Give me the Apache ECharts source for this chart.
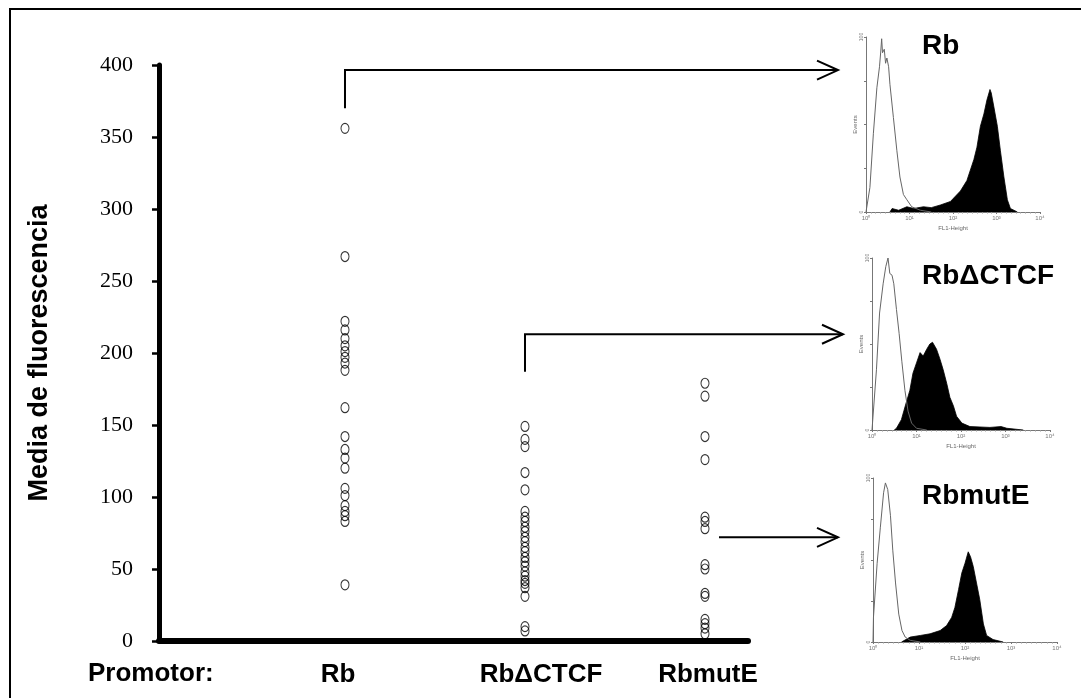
<!DOCTYPE html>
<html>
<head>
<meta charset="utf-8">
<script src="https://cdn.jsdelivr.net/npm/echarts@6/dist/echarts.min.js"></script>
<style>
html,body{margin:0;padding:0;background:#fff;}
#chart{width:1081px;height:698px;}
</style>
</head>
<body>
<div id="chart"></div>
<script>
// ---- main scatter data ----
const categories = ['Rb', 'RbΔCTCF', 'RbmutE'];
const axisTitle = 'Media de fluorescencia';
const promoterLabel = 'Promotor:';
const yTicks = [0, 50, 100, 150, 200, 250, 300, 350, 400];
const rbValues = [356, 267, 222, 216, 210, 205, 201, 197, 193, 188, 162, 142, 133, 127, 120, 106, 101, 94, 90, 87, 83, 39];
const ctcfValues = [149, 140, 135, 117, 105, 90, 86, 83, 79, 76, 72, 69, 65, 62, 58, 55, 52, 48, 45, 42, 40, 37, 31, 10, 7];
const mutEValues = [179, 170, 142, 126, 86, 83, 78, 53, 50, 33, 31, 15, 12, 9, 5];

// ---- histogram data: [log10 decade, events %] ----
const histTitles = ['Rb', 'RbΔCTCF', 'RbmutE'];
const histXTicks = ['10⁰', '10¹', '10²', '10³', '10⁴'];
const rbCtrl = [[0,0],[0.09,14],[0.17,45],[0.25,71],[0.31,83],[0.34,92],[0.36,99],[0.38,91],[0.42,93],[0.45,85],[0.48,88],[0.52,83],[0.55,73],[0.63,54],[0.71,35],[0.78,20],[0.86,10],[0.94,7],[1.05,3],[1.25,1],[1.5,0]];
const rbFill = [[0.55,0],[0.6,2],[0.75,1],[0.94,3],[1.1,2],[1.32,3],[1.5,2.5],[1.71,4],[1.94,6],[2.17,12],[2.32,18],[2.48,30],[2.55,37],[2.63,49],[2.71,56],[2.78,64],[2.85,70],[2.88,68],[2.94,60],[3.02,49],[3.09,35],[3.17,20],[3.25,7],[3.32,2],[3.48,0]];
const ctcfCtrl = [[0,0],[0.1,35],[0.17,68],[0.25,85],[0.31,95],[0.36,100],[0.4,91],[0.45,90],[0.49,85],[0.55,70],[0.61,56],[0.67,40],[0.74,23],[0.81,11],[0.89,4],[1.0,1],[1.23,0]];
const ctcfFill = [[0.5,0],[0.55,1],[0.66,6],[0.77,16],[0.85,23],[0.92,33],[1.0,39],[1.08,45],[1.15,43],[1.23,47],[1.3,50],[1.36,51],[1.45,47],[1.53,41],[1.6,35],[1.68,27],[1.75,19],[1.83,14],[1.9,8],[2.02,4],[2.2,2],[2.65,1.5],[2.9,2],[3.03,1],[3.4,0]];
const mutECtrl = [[0,0],[0.01,15],[0.09,48],[0.16,70],[0.23,91],[0.27,97],[0.32,93],[0.38,77],[0.43,56],[0.49,36],[0.56,17],[0.63,7],[0.7,3],[0.81,1],[1.03,0]];
const mutEFill = [[0.62,0],[0.66,1],[0.81,3],[1.03,4],[1.24,5],[1.46,7],[1.6,10],[1.71,15],[1.78,21],[1.86,32],[1.93,42],[2.0,48],[2.07,55],[2.12,52],[2.18,46],[2.25,36],[2.32,26],[2.4,11],[2.47,4],[2.61,1.5],[2.83,0]];

const chart = echarts.init(document.getElementById('chart'), null, {renderer: 'canvas'});

const seriesValues = [rbValues, ctcfValues, mutEValues];
const histCtrl = [rbCtrl, ctcfCtrl, mutECtrl];
const histFill = [rbFill, ctcfFill, mutEFill];

const histGrids = [
  {left: 866, top: 37, width: 174, height: 175},
  {left: 872, top: 258, width: 178, height: 172},
  {left: 873, top: 478, width: 184, height: 164}
];

const grids = [{left: 159, top: 65, width: 589, height: 576}].concat(histGrids);

const xAxes = [{
  gridIndex: 0, type: 'value', min: -0.0333, max: 3.2389,
  axisLine: {show: true, onZero: false, lineStyle: {color: '#000', width: 6}},
  axisTick: {show: false}, axisLabel: {show: false}, splitLine: {show: false}
}];
const yAxes = [{
  gridIndex: 0, type: 'value', min: 0, max: 400, interval: 50,
  name: axisTitle, nameLocation: 'middle', nameGap: 106, nameRotate: 90,
  nameTextStyle: {fontFamily: 'Liberation Sans', fontWeight: 'bold', fontSize: 27, color: '#000'},
  axisLine: {show: true, onZero: false, lineStyle: {color: '#000', width: 5}},
  axisTick: {show: true, length: 7, lineStyle: {color: '#000', width: 2.5}},
  axisLabel: {fontFamily: 'Liberation Serif', fontSize: 22, color: '#000', margin: 26, padding: [0,0,8,0]},
  splitLine: {show: false}
}];

histGrids.forEach((g, i) => {
  xAxes.push({
    gridIndex: i + 1, type: 'value', min: 0, max: 4, interval: 1,
    name: 'FL1-Height', nameLocation: 'middle', nameGap: 13,
    nameTextStyle: {fontSize: 6, color: '#666', fontFamily: 'Liberation Sans'},
    axisLine: {show: true, onZero: false, lineStyle: {color: '#777', width: 1}},
    axisTick: {show: true, length: 2, lineStyle: {color: '#777'}},
    minorTick: {show: true, splitNumber: 9, length: 1.5, lineStyle: {color: '#999'}},
    axisLabel: {fontSize: 6, color: '#777', margin: 3, formatter: v => histXTicks[Math.round(v)]},
    splitLine: {show: false}
  });
  yAxes.push({
    gridIndex: i + 1, type: 'value', min: 0, max: 100, interval: 25,
    name: 'Events', nameLocation: 'middle', nameGap: 8, nameRotate: 90,
    nameTextStyle: {fontSize: 6, color: '#666', fontFamily: 'Liberation Sans'},
    axisLine: {show: true, onZero: false, lineStyle: {color: '#777', width: 1}},
    axisTick: {show: true, length: 2, lineStyle: {color: '#777'}},
    axisLabel: {fontSize: 5, color: '#777', margin: 2, rotate: 90,
      formatter: v => (v === 0 || v === 100) ? String(v) : ''},
    splitLine: {show: false}
  });
});

const series = [];
seriesValues.forEach((vals, ci) => {
  series.push({
    type: 'scatter', name: categories[ci], xAxisIndex: 0, yAxisIndex: 0,
    data: vals.map(v => [ci + 1, v]),
    symbol: 'circle', symbolSize: [8, 10],
    itemStyle: {color: 'rgba(0,0,0,0)', borderColor: '#000', borderWidth: 1.1},
    silent: true
  });
});
histGrids.forEach((g, i) => {
  series.push({
    type: 'line', xAxisIndex: i + 1, yAxisIndex: i + 1, data: histFill[i],
    symbol: 'none', lineStyle: {color: '#000', width: 0.8},
    areaStyle: {color: '#000', opacity: 1}, z: 2
  });
  series.push({
    type: 'line', xAxisIndex: i + 1, yAxisIndex: i + 1, data: histCtrl[i],
    symbol: 'none', lineStyle: {color: '#666', width: 1}, z: 3
  });
});

const baseGraphic = [
  {type: 'rect', shape: {x: 10, y: 9, width: 1100, height: 720}, style: {fill: 'none', stroke: '#000', lineWidth: 2}, silent: true},
  {type: 'text', left: 88, top: 661, style: {text: promoterLabel, font: 'bold 26px "Liberation Sans"', fill: '#000'}},
  {type: 'text', x: 338, y: 675, style: {text: categories[0], font: 'bold 26px "Liberation Sans"', fill: '#000', align: 'center', verticalAlign: 'middle'}},
  {type: 'text', x: 541, y: 675, style: {text: categories[1], font: 'bold 26px "Liberation Sans"', fill: '#000', align: 'center', verticalAlign: 'middle'}},
  {type: 'text', x: 708, y: 675, style: {text: categories[2], font: 'bold 26px "Liberation Sans"', fill: '#000', align: 'center', verticalAlign: 'middle'}},
  {type: 'text', x: 922, y: 46, style: {text: histTitles[0], font: 'bold 28px "Liberation Sans"', fill: '#000', verticalAlign: 'middle'}, z: 10},
  {type: 'text', x: 922, y: 276, style: {text: histTitles[1], font: 'bold 28px "Liberation Sans"', fill: '#000', verticalAlign: 'middle'}, z: 10},
  {type: 'text', x: 922, y: 496, style: {text: histTitles[2], font: 'bold 28px "Liberation Sans"', fill: '#000', verticalAlign: 'middle'}, z: 10}
];

chart.setOption({
  animation: false,
  backgroundColor: '#fff',
  grid: grids,
  xAxis: xAxes,
  yAxis: yAxes,
  series: series,
  graphic: baseGraphic
});

// arrows from the data columns to the histograms
function px(ci, v) { return chart.convertToPixel({xAxisIndex: 0, yAxisIndex: 0}, [ci, v]); }
function arrow(points) {
  const tip = points[points.length - 1];
  return [
    {type: 'polyline', shape: {points: points}, style: {stroke: '#000', lineWidth: 2, fill: 'none'}, z: 20},
    {type: 'polyline', shape: {points: [[tip[0] - 21, tip[1] - 9.5], tip, [tip[0] - 21, tip[1] + 9.5]]}, style: {stroke: '#000', lineWidth: 2, fill: 'none'}, z: 20}
  ];
}
const a1s = px(1, 370), a1t = px(1, 396.5);
const a2s = px(2, 187), a2t = px(2, 213);
const a3s = px(3, 72);
const arrows = []
  .concat(arrow([[a1s[0], a1s[1]], [a1t[0], a1t[1]], [838, a1t[1]]]))
  .concat(arrow([[a2s[0], a2s[1]], [a2t[0], a2t[1]], [843, a2t[1]]]))
  .concat(arrow([[a3s[0] + 14, a3s[1]], [838, a3s[1]]]));
chart.setOption({graphic: baseGraphic.concat(arrows)});
</script>
</body>
</html>
